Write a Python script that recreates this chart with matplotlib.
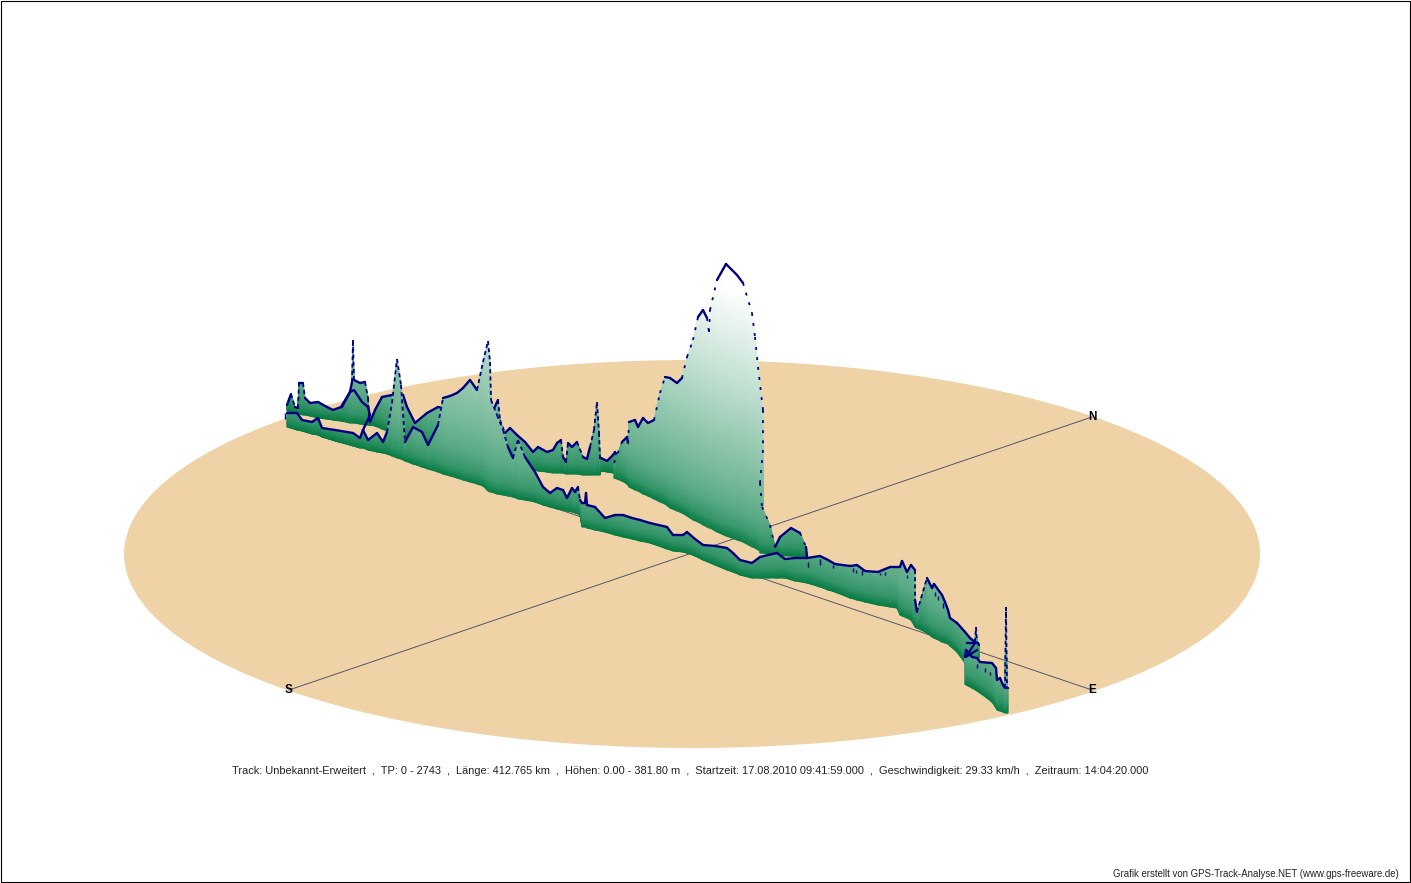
import numpy as np
import matplotlib
matplotlib.use("Agg")
import matplotlib.pyplot as plt
from matplotlib.colors import LinearSegmentedColormap
from matplotlib.patches import Ellipse, Rectangle

# hinterer Teil des Tracks
far_x = [287, 291, 295, 298, 299, 303, 305, 310, 318, 327, 333, 341, 350, 352, 353, 354, 360, 365, 368, 369, 370, 375,
         382, 392, 397, 403, 407, 415, 427, 438, 443, 470, 490, 498, 500, 505, 510, 517, 525, 533, 538, 547, 553, 557,
         561, 563, 566, 568, 572, 577, 583, 587, 590, 594, 597, 599, 600, 601, 607, 613, 615, 617]
far_ground = [411, 412, 413, 414, 414, 415, 415, 416, 418, 419, 420, 421, 423, 423, 423, 423, 424, 425, 425, 425, 425,
              426, 429, 433, 435, 437, 438, 441, 446, 450, 452, 458, 462, 463, 463, 464, 466, 467, 468, 470, 471, 472,
              473, 473, 473, 473, 474, 474, 474, 474, 475, 475, 475, 475, 475, 475, 475, 471, 472, 473, 473, 474]
far_top = [405, 394, 407, 408, 383, 383, 398, 403, 402, 407, 410, 407, 392, 382, 340, 380, 383, 382, 398, 415, 422, 410,
           397, 395, 398, 395, 407, 423, 413, 407, 408, 410, 417, 400, 420, 433, 428, 435, 442, 452, 447, 452, 450, 443,
           440, 457, 462, 443, 447, 442, 457, 459, 447, 430, 402, 433, 458, 458, 461, 455, 452, 455]

# der grosse Berg
hill_x = [614, 622, 627, 628, 629, 635, 638, 643, 648, 654, 660, 665, 670, 677, 682, 687, 693, 698, 703, 707, 709, 710,
          717, 726, 737, 743, 752, 755, 758, 763, 763, 760, 762, 770, 775, 780, 791, 800, 806, 807]
hill_ground = [478, 481, 484, 485, 487, 490, 491, 494, 496, 499, 502, 504, 508, 511, 513, 516, 520, 522, 525, 527, 528,
               528, 532, 536, 540, 542, 547, 548, 550, 552, 552, 553, 553, 554, 555, 556, 556, 557, 558, 558]
hill_top = [463, 442, 437, 443, 422, 420, 427, 418, 423, 420, 393, 377, 378, 383, 378, 357, 340, 317, 310, 318, 332, 310,
            280, 264, 275, 283, 313, 337, 367, 410, 450, 483, 507, 525, 547, 537, 528, 533, 547, 557]

# vorderer Teil des Tracks
near_x = [287, 297, 302, 312, 318, 322, 335, 353, 360, 363, 368, 377, 383, 387, 392, 397, 401, 405, 413, 422, 428, 438,
          443, 450, 457, 463, 470, 477, 483, 488, 490, 491, 497, 503, 508, 513, 518, 525, 535, 543, 550, 557, 563, 567,
          572, 575, 578, 580, 582, 585, 586, 587, 595, 605, 615, 623, 632, 640, 650, 667, 673, 683, 687, 695, 703, 715,
          727, 733, 740, 752, 760, 768, 777, 785, 795, 807, 820, 828, 835, 850, 857, 865, 878, 890, 897, 900, 902, 907,
          911, 915, 915, 917, 927, 932, 934, 942, 945, 948, 950, 957, 965, 970, 975, 976, 977, 978, 979]
near_ground = [427, 430, 431, 434, 435, 437, 441, 446, 448, 448, 450, 452, 453, 454, 456, 458, 459, 461, 464, 467, 469,
               472, 474, 476, 478, 480, 482, 484, 486, 491, 492, 492, 494, 495, 496, 497, 499, 500, 502, 505, 507, 509,
               510, 511, 512, 513, 514, 515, 527, 527, 527, 528, 530, 532, 535, 537, 539, 541, 543, 549, 551, 552, 553,
               556, 560, 565, 570, 572, 575, 578, 578, 578, 578, 578, 581, 583, 587, 590, 592, 598, 600, 602, 605, 607,
               608, 615, 616, 618, 620, 627, 627, 628, 633, 637, 638, 642, 643, 644, 646, 652, 663, 664, 665, 665, 665,
               660, 658]
near_top = [413, 413, 420, 422, 418, 428, 430, 433, 438, 430, 440, 433, 442, 432, 403, 359, 385, 442, 427, 432, 445, 425,
            398, 396, 393, 388, 380, 390, 362, 341, 362, 400, 415, 430, 447, 458, 440, 457, 472, 487, 493, 488, 490, 498,
            488, 492, 487, 500, 503, 503, 493, 505, 507, 518, 515, 515, 518, 520, 523, 527, 535, 535, 532, 539, 545, 546,
            548, 553, 560, 563, 557, 555, 553, 559, 558, 558, 556, 560, 564, 566, 565, 571, 572, 567, 567, 567, 561, 572,
            565, 570, 600, 612, 578, 588, 584, 595, 602, 610, 618, 623, 632, 638, 642, 627, 643, 643, 645]

# letztes Stueck rechts
end_x = [965, 966, 972, 977, 980, 992, 996, 997, 1000, 1003, 1005, 1006, 1007, 1008]
end_ground = [684, 685, 688, 691, 693, 702, 708, 710, 711, 712, 713, 713, 713, 713]
end_top = [657, 650, 657, 658, 662, 663, 668, 680, 678, 685, 688, 607, 688, 688]

# zusaetzliche Linien ohne Flaeche
inner_x = [342, 350, 354, 362, 368, 370, 363]
inner_y = [407, 392, 390, 402, 407, 415, 430]
loop_x = [967, 975, 966, 977]
loop_y = [643, 643, 657, 650]

# kleine Striche unter der Linie
tick_x = [285, 808, 820, 833, 853, 856, 862, 880, 885, 907, 935, 938, 943, 977, 985, 990]
tick_y0 = [413, 562, 559, 565, 568, 570, 570, 573, 572, 575, 592, 596, 603, 664, 668, 672]
tick_y1 = [419, 567, 565, 568, 572, 573, 575, 575, 575, 578, 596, 600, 608, 668, 672, 675]

compass_labels = ["S", "N", "E"]
compass_x = [289, 1092, 1092]
compass_y = [690, 417, 690]

info_text = ("Track: Unbekannt-Erweitert  ,  TP: 0 - 2743  ,  Länge: 412.765 km  ,  Höhen: 0.00 - 381.80 m  ,  "
             "Startzeit: 17.08.2010 09:41:59.000  ,  Geschwindigkeit: 29.33 km/h  ,  Zeitraum: 14:04:20.000")
credit_text = "Grafik erstellt von GPS-Track-Analyse.NET (www.gps-freeware.de)"

plt.rcParams['font.family'] = ['Liberation Sans', 'DejaVu Sans']

cmap = LinearSegmentedColormap.from_list("curtain", [(0, "#087c44"), (0.04, "#35966a"), (0.12, "#5aab85"),
                                                     (0.24, "#78ba9a"), (0.4, "#97cab1"), (0.6, "#bddece"),
                                                     (1, "#ffffff")])

fig = plt.figure(figsize=(14.11, 8.83), dpi=100)
ax = fig.add_axes([0, 0, 1, 1])
ax.set_xlim(0, 1411)
ax.set_ylim(883, 0)
ax.axis("off")

# Scheibe
ax.add_patch(Ellipse((692, 554), 1136, 388, facecolor="#efd3a7", edgecolor="none", zorder=1))

# Achsen
ax.plot([289, 1092], [690, 417], color="#55556a", lw=0.7, zorder=2)
ax.plot([289, 1092], [418, 690], color="#55556a", lw=0.7, zorder=2)


def curtain(xs, ground, top, z, dash=(2.2, 1.8)):
    xs = np.array(xs, dtype=float)
    ground = np.array(ground, dtype=float)
    top = np.array(top, dtype=float)
    frac = np.linspace(0, 1, 24)[:, None]
    X = np.tile(xs, (len(frac), 1))
    Y = ground + frac * (top - ground)
    C = (ground - Y) / 250.0
    ax.pcolormesh(X, Y, C, cmap=cmap, vmin=0, vmax=1, shading="gouraud", zorder=z)
    # steile Stuecke sind im Original nur punktiert
    for i in range(len(xs) - 1):
        dx = abs(xs[i + 1] - xs[i])
        dy = abs(top[i + 1] - top[i])
        if dy > 12 and dy > 2.2 * dx:
            ax.plot(xs[i:i + 2], top[i:i + 2], color="#000080", lw=1.3, ls=(0, dash), zorder=z + 0.5)
        else:
            ax.plot(xs[i:i + 2], top[i:i + 2], color="#000080", lw=1.7, solid_capstyle="round", zorder=z + 0.5)


curtain(far_x, far_ground, far_top, 3)
curtain(hill_x, hill_ground, hill_top, 4, dash=(1.6, 4))
curtain(near_x, near_ground, near_top, 5)
curtain(end_x, end_ground, end_top, 6)

ax.plot(inner_x, inner_y, color="#000080", lw=1.7, zorder=5.6)
ax.plot(loop_x, loop_y, color="#000080", lw=1.6, zorder=6.6)
ax.vlines(tick_x, tick_y0, tick_y1, color="#000080", lw=1.0, zorder=6.6)

for lab, x, y in zip(compass_labels, compass_x, compass_y):
    ax.text(x, y, lab, fontsize=8.5, fontweight="bold", color="black", ha="center", va="center", zorder=8)

ax.text(690.5, 770.5, info_text, fontsize=7.9, color="#222222", ha="center", va="center")
ax.text(1399, 874, credit_text, fontsize=6.9, color="#222222", ha="right", va="center")

# Rahmen
ax.add_patch(Rectangle((0.5, 0.5), 1409, 881, facecolor="none", edgecolor="black", lw=0.8, zorder=9))

fig.savefig("out.png", dpi=100)
